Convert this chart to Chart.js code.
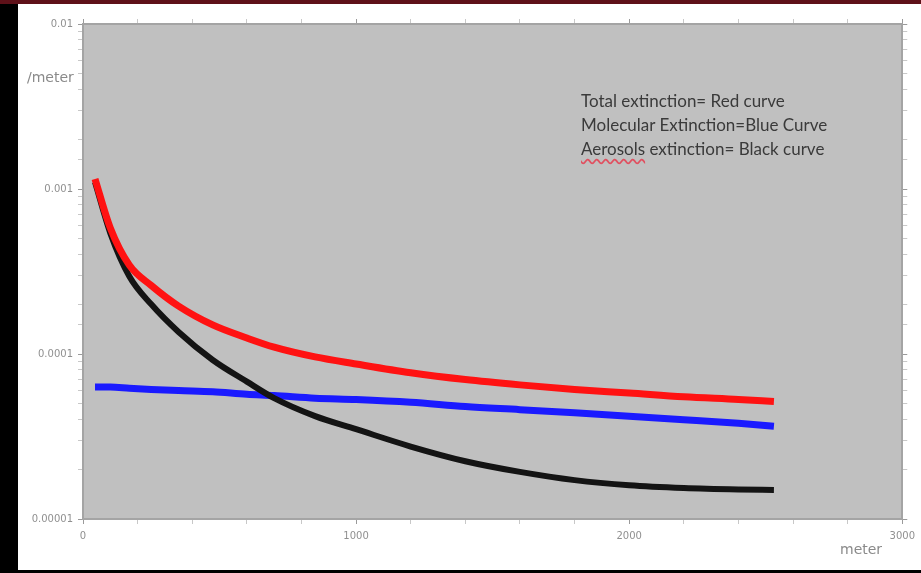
<!DOCTYPE html>
<html>
<head>
<meta charset="utf-8">
<script src="https://cdn.jsdelivr.net/npm/chart.js@4.4.0/dist/chart.umd.min.js"></script>
<style>
  html, body { margin: 0; padding: 0; background: #000; }
  #page { position: relative; width: 921px; height: 573px; overflow: hidden; background: #000; }
  #topBand { position: absolute; left: 0; top: 0; width: 921px; height: 4px; background: #5e1119; }
  #paper { position: absolute; left: 18px; top: 4px; width: 903px; height: 566px; background: #fff; }
  #chartBox { position: absolute; left: 0; top: 0; width: 921px; height: 573px; }
  .lbl { position: absolute; font-family: "DejaVu Sans", sans-serif; color: #8a8a8a; white-space: nowrap; }
  #note { position: absolute; left: 581px; top: 89px; font-family: Lato, "Open Sans", sans-serif; font-size: 17px; line-height: 24px; color: #3a3a3a; }
  .squiggle { text-decoration: underline wavy #e05060; text-underline-offset: 3px; }
</style>
</head>
<body>
<div id="page">
  <div id="topBand"></div>
  <div id="paper"></div>
  <div id="chartBox"><canvas id="extChart"></canvas></div>
  <div class="lbl" style="left:27px; top:69px; font-size:14px;">/meter</div>
  <div class="lbl" style="left:840px; top:541px; font-size:14px;">meter</div>
  <div id="note">
    <div>Total extinction= Red curve</div>
    <div>Molecular Extinction=Blue Curve</div>
    <div><span class="squiggle">Aerosols</span> extinction= Black curve</div>
  </div>
</div>
<script>
// altitude in meter
const altitude = [44, 100, 170, 250, 350, 475, 600, 700, 850, 1000, 1200, 1400, 1600, 1800, 2000, 2200, 2400, 2530];

// extinction per meter
const totalExt = [1.15e-3, 5.8e-4, 3.45e-4, 2.6e-4, 1.95e-4, 1.5e-4, 1.25e-4, 1.1e-4, 9.6e-5, 8.7e-5,
                  7.7e-5, 7.0e-5, 6.5e-5, 6.1e-5, 5.8e-5, 5.5e-5, 5.3e-5, 5.15e-5];
const molecularExt = [6.3e-5, 6.3e-5, 6.2e-5, 6.1e-5, 6.0e-5, 5.9e-5, 5.7e-5, 5.6e-5, 5.4e-5, 5.3e-5,
                      5.1e-5, 4.8e-5, 4.6e-5, 4.4e-5, 4.2e-5, 4.0e-5, 3.8e-5, 3.65e-5];
const aerosolExt = [1.1e-3, 5.4e-4, 2.95e-4, 2.0e-4, 1.36e-4, 9.2e-5, 6.8e-5, 5.4e-5, 4.2e-5, 3.5e-5,
                    2.75e-5, 2.24e-5, 1.93e-5, 1.72e-5, 1.6e-5, 1.54e-5, 1.51e-5, 1.5e-5];

const xTickLabels = ['0', '1000', '2000', '3000'];
const yTickLabels = ['0.01', '0.001', '0.0001', '0.00001'];

function toPoints(values) {
    return altitude.map((a, i) => ({ x: a, y: values[i] }));
}

function isDecade(v) {
    const e = Math.log10(v);
    return Math.abs(e - Math.round(e)) < 1e-6;
}

// grey plot area
const plotBackground = {
    id: 'plotBackground',
    beforeDraw(chart) {
        const { ctx, chartArea: a } = chart;
        ctx.save();
        ctx.fillStyle = '#c0c0c0';
        ctx.fillRect(a.left, a.top, a.right - a.left, a.bottom - a.top);
        ctx.restore();
    }
};

const tickFont = { family: 'DejaVu Sans', size: 10 };
const borderStyle = { display: true, color: '#a4a4a4', width: 2 };

function xTickColor(c) {
    return c.tick && c.tick.value % 1000 === 0 ? '#9a9a9a' : '#c8c8c8';
}
function yTickColor(c) {
    return c.tick && isDecade(c.tick.value) ? '#9a9a9a' : '#c8c8c8';
}

const ctx = document.getElementById('extChart').getContext('2d');
new Chart(ctx, {
    type: 'line',
    data: {
        datasets: [{
            label: 'Total extinction',
            data: toPoints(totalExt),
            borderColor: '#ff1212',
            borderWidth: 7,
            order: 0
        }, {
            label: 'Aerosols extinction',
            data: toPoints(aerosolExt),
            borderColor: '#141414',
            borderWidth: 6,
            order: 1
        }, {
            label: 'Molecular extinction',
            data: toPoints(molecularExt),
            borderColor: '#1a1aff',
            borderWidth: 7,
            order: 2
        }]
    },
    options: {
        responsive: true,
        maintainAspectRatio: false,
        animation: false,
        layout: { padding: { left: 18, right: 8, top: 18, bottom: 24 } },
        elements: {
            point: { radius: 0 },
            line: { cubicInterpolationMode: 'monotone', borderCapStyle: 'butt', fill: false }
        },
        plugins: {
            legend: { display: false },
            tooltip: { enabled: false }
        },
        scales: {
            x: {
                type: 'linear',
                position: 'bottom',
                min: 0,
                max: 3000,
                border: borderStyle,
                grid: { drawOnChartArea: false, tickLength: 5, tickColor: xTickColor },
                ticks: {
                    stepSize: 200,
                    autoSkip: false,
                    maxRotation: 0,
                    padding: 6,
                    color: '#909090',
                    font: tickFont,
                    callback: v => xTickLabels.includes(String(v)) ? String(v) : ''
                },
                afterFit: s => { s.height = 30; }
            },
            x2: {
                type: 'linear',
                position: 'top',
                min: 0,
                max: 3000,
                border: borderStyle,
                grid: { drawOnChartArea: false, tickLength: 5, tickColor: xTickColor },
                ticks: { stepSize: 200, autoSkip: false, display: false },
                afterFit: s => { s.height = 6; }
            },
            y: {
                type: 'logarithmic',
                position: 'left',
                min: 1e-5,
                max: 1e-2,
                border: borderStyle,
                grid: { drawOnChartArea: false, tickLength: 5, tickColor: yTickColor },
                ticks: {
                    autoSkip: false,
                    padding: 5,
                    color: '#909090',
                    font: tickFont,
                    callback: v => isDecade(v) ? yTickLabels[Math.round(-Math.log10(v)) - 2] : ''
                },
                afterFit: s => { s.width = 65; }
            },
            y2: {
                type: 'logarithmic',
                position: 'right',
                min: 1e-5,
                max: 1e-2,
                border: borderStyle,
                grid: { drawOnChartArea: false, tickLength: 5, tickColor: yTickColor },
                ticks: { autoSkip: false, display: false },
                afterFit: s => { s.width = 8; }
            }
        }
    },
    plugins: [plotBackground]
});
</script>
</body>
</html>
